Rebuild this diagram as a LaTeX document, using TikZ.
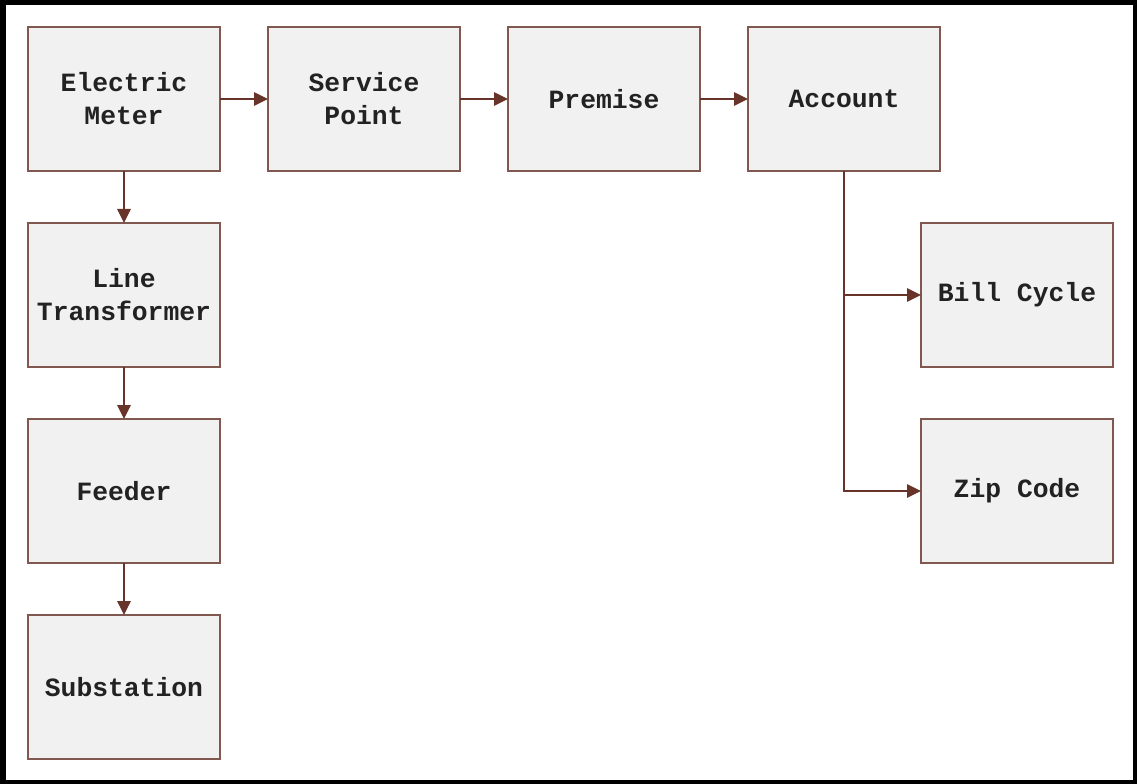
\documentclass[tikz,border=0pt]{standalone}
\usepackage{fontspec}
\setmonofont{Liberation Mono}
\usepackage{xcolor}
\usepackage{tikz}
\usetikzlibrary{positioning,arrows.meta}

\definecolor{boxline}{RGB}{128,88,80}
\definecolor{arrowline}{RGB}{104,52,42}
\definecolor{boxfill}{RGB}{241,241,241}
\definecolor{boxtext}{RGB}{34,34,34}

\tikzset{
    entity/.style={draw=boxline, fill=boxfill, line width=0.9pt,
        minimum width=3.84cm, minimum height=2.88cm, inner sep=0pt,
        outer sep=0pt, align=center, text=boxtext,
        font=\ttfamily\bfseries\fontsize{15}{18.7}\selectfont},
    link/.style={draw=arrowline, line width=0.9pt,
        -{Triangle[length=0.28cm,width=0.27cm]}}
}

\begin{document}
\begin{tikzpicture}

% frame
\fill[black] (0,0) rectangle (22.74,-15.68);
\fill[white] (0.12,-0.10) rectangle (22.66,-15.60);
\useasboundingbox (0,0) rectangle (22.74,-15.68);

\node[entity] (meter) at (2.48,-1.98) {Electric\\Meter};
\node[entity, right=0.96cm of meter] (spoint) {Service\\Point};
\node[entity, right=0.96cm of spoint] (premise) {Premise};
\node[entity, right=0.96cm of premise] (account) {Account};

\node[entity, below=1.04cm of meter] (linetr) {Line\\Transformer};
\node[entity, below=1.04cm of linetr] (feeder) {Feeder};
\node[entity, below=1.04cm of feeder] (subst) {Substation};

\node[entity, below=1.04cm of account, xshift=3.46cm] (bill) {Bill Cycle};
\node[entity, below=1.04cm of bill] (zip) {Zip Code};

\foreach \a/\b in {meter/spoint,spoint/premise,premise/account} {
    \draw[link] (\a) -- (\b);
}
\foreach \a/\b in {meter/linetr,linetr/feeder,feeder/subst} {
    \draw[link] (\a) -- (\b);
}

\coordinate (split) at (account.south |- bill.west);
\draw[link] (account.south) |- (zip.west);
\draw[link] (split) -- (bill.west);

\end{tikzpicture}
\end{document}
